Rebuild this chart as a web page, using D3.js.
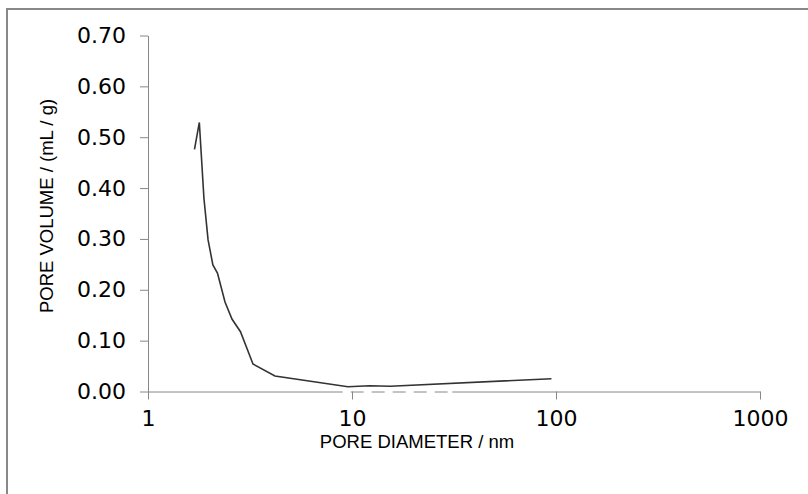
<!DOCTYPE html>
<html>
<head>
<meta charset="utf-8">
<script src="https://cdn.jsdelivr.net/npm/d3@7"></script>
<style>
  body { margin: 0; background: #fff; }
  svg { display: block; }
</style>
</head>
<body>
<div id="chart"></div>
<script>
// pore size distribution
var diameter = [1.69, 1.785, 1.88, 1.97, 2.08, 2.19, 2.385, 2.58, 2.84, 3.27, 4.19, 9.55, 12.2, 15.4, 95];
var volume = [0.476, 0.529, 0.380, 0.298, 0.249, 0.233, 0.176, 0.1425, 0.1176, 0.054, 0.0305, 0.0094, 0.0114, 0.0102, 0.0252];

var xTicks = [1, 10, 100, 1000];
var yTicks = [0, 0.1, 0.2, 0.3, 0.4, 0.5, 0.6, 0.7];

var width = 808, height = 494;

var svg = d3.select("#chart")
    .append("svg")
    .attr("width", width)
    .attr("height", height);

// outer frame, runs off the right and bottom edge
svg.append("rect")
    .attr("x", 7)
    .attr("y", 9)
    .attr("width", 900)
    .attr("height", 600)
    .attr("fill", "none")
    .attr("stroke", "#888")
    .attr("stroke-width", 2);

var x = d3.scaleLog()
    .domain([1, 1000])
    .range([148, 760]);

var y = d3.scaleLinear()
    .domain([0, 0.7])
    .range([391.5, 35.5]);

// Y axis
var yAxis = svg.append("g")
    .attr("transform", "translate(" + x(1) + ",0)")
    .call(d3.axisLeft(y).tickValues(yTicks).tickSize(8).tickSizeOuter(0).tickPadding(14)
        .tickFormat(d3.format(".2f")));

// X axis
var xAxis = svg.append("g")
    .attr("transform", "translate(0," + y(0) + ")")
    .call(d3.axisBottom(x).tickValues(xTicks).tickSize(8).tickSizeOuter(0).tickPadding(11)
        .tickFormat(d3.format("d")));

[yAxis, xAxis].forEach(function (g) {
    g.select(".domain").attr("stroke", "#888");
    g.selectAll(".tick line").attr("stroke", "#888");
    g.selectAll(".tick text")
        .attr("fill", "#000")
        .style("font-family", "'DejaVu Sans', Verdana, sans-serif")
        .style("font-size", "22px");
});

// the broken bit of the x axis line between 10 and 30
svg.append("line")
    .attr("x1", x(9))
    .attr("x2", x(31))
    .attr("y1", y(0) + 0.5)
    .attr("y2", y(0) + 0.5)
    .attr("stroke", "#fff")
    .attr("stroke-width", 2)
    .attr("stroke-dasharray", "8,13");

// curve
var data = diameter.map(function (d, i) { return { d: d, v: volume[i] }; });

var line = d3.line()
    .x(function (p) { return x(p.d); })
    .y(function (p) { return y(p.v); });

svg.append("path")
    .attr("d", line(data))
    .attr("fill", "none")
    .attr("stroke", "#333")
    .attr("stroke-width", 1.6);

// axis titles
svg.append("text")
    .attr("x", 417)
    .attr("y", 448)
    .attr("text-anchor", "middle")
    .style("font-family", "'Liberation Sans', Arial, sans-serif")
    .style("font-size", "18.5px")
    .text("PORE DIAMETER / nm");

svg.append("text")
    .attr("transform", "translate(53,206)rotate(-90)")
    .attr("text-anchor", "middle")
    .style("font-family", "'Liberation Sans', Arial, sans-serif")
    .style("font-size", "18.5px")
    .text("PORE VOLUME / (mL / g)");
</script>
</body>
</html>
